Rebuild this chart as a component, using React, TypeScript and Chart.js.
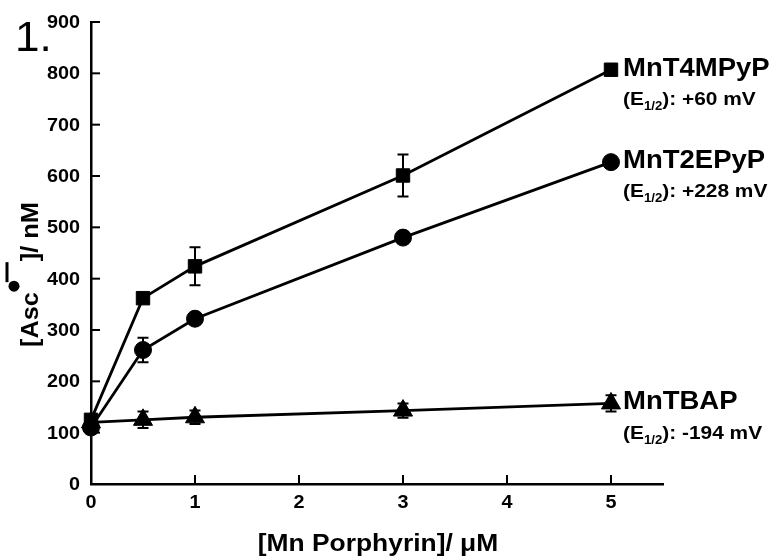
import React, { useEffect, useRef } from "react";
import { Chart, registerables } from "chart.js";
Chart.register(...registerables);

const concentrations = [0, 0.5, 1, 3, 5];
const t4mpypValues = [125, 362, 424, 601, 807];
const t4mpypErrors = [0, 0, 37, 41, 0];
const t2epypValues = [110, 261, 322, 480, 627];
const t2epypErrors = [8, 24, 0, 0, 0];
const tbapValues = [120, 125, 130, 143, 157];
const tbapErrors = [0, 16, 13, 14, 16];
const seriesNames = ["MnT4MPyP", "MnT2EPyP", "MnTBAP"];
const potentials = ["+60 mV", "+228 mV", "-194 mV"];
const yTickValues = [0, 100, 200, 300, 400, 500, 600, 700, 800, 900];
const xTickValues = [0, 1, 2, 3, 4, 5];

const FONT = "'Liberation Sans', Arial, sans-serif";
const SX = 1.1;

const errorsBySeries = [t4mpypErrors, t2epypErrors, tbapErrors];

function drawText(
  ctx: CanvasRenderingContext2D,
  text: string,
  x: number,
  y: number,
  font: string,
  align: "left" | "center" | "right" = "left",
  baseline: CanvasTextBaseline = "alphabetic",
  sx = SX
) {
  ctx.save();
  ctx.font = font;
  const w = ctx.measureText(text).width * sx;
  let left = x;
  if (align === "center") left = x - w / 2;
  if (align === "right") left = x - w;
  ctx.translate(left, y);
  ctx.scale(sx, 1);
  ctx.textAlign = "left";
  ctx.textBaseline = baseline;
  ctx.fillText(text, 0, 0);
  ctx.restore();
  return w;
}

const overlayPlugin = {
  id: "overlay",
  afterDatasetsDraw(chart: any) {
    const ctx = chart.ctx as CanvasRenderingContext2D;
    const xs = chart.scales.x;
    const ys = chart.scales.y;
    ctx.save();
    ctx.strokeStyle = "#000";
    ctx.fillStyle = "#000";
    const left = xs.getPixelForValue(0);
    const bottom = ys.getPixelForValue(0);
    // inward ticks + tick labels
    ctx.lineWidth = 2;
    const tickFont = `bold 18px ${FONT}`;
    yTickValues.forEach((v) => {
      const y = ys.getPixelForValue(v);
      if (v !== 0) {
        ctx.beginPath();
        ctx.moveTo(left, y);
        ctx.lineTo(left + 9, y);
        ctx.stroke();
      }
      drawText(ctx, String(v), left - 11, y + 1, tickFont, "right", "middle");
    });
    xTickValues.forEach((v) => {
      const x = xs.getPixelForValue(v);
      if (v !== 0) {
        ctx.beginPath();
        ctx.moveTo(x, bottom);
        ctx.lineTo(x, bottom - 9);
        ctx.stroke();
      }
      drawText(ctx, String(v), x, bottom + 19, tickFont, "center", "middle");
    });
    // error bars
    ctx.lineWidth = 2;
    chart.data.datasets.forEach((ds: any, i: number) => {
      const errs = errorsBySeries[i];
      ds.data.forEach((p: any, j: number) => {
        const e = errs[j];
        if (!e) return;
        const x = xs.getPixelForValue(p.x);
        const yTop = ys.getPixelForValue(p.y + e);
        const yBot = ys.getPixelForValue(p.y - e);
        ctx.beginPath();
        ctx.moveTo(x, yTop);
        ctx.lineTo(x, yBot);
        ctx.moveTo(x - 5.5, yTop);
        ctx.lineTo(x + 5.5, yTop);
        ctx.moveTo(x - 5.5, yBot);
        ctx.lineTo(x + 5.5, yBot);
        ctx.stroke();
      });
    });
    // series labels
    chart.data.datasets.forEach((ds: any, i: number) => {
      const last = ds.data[ds.data.length - 1];
      const x = xs.getPixelForValue(last.x) + 12;
      const y = ys.getPixelForValue(last.y);
      drawText(ctx, seriesNames[i], x, y - 1, `bold 25px ${FONT}`, "left", "middle");
      const sy = y + 30;
      let cx = x;
      cx += drawText(ctx, "(E", cx, sy, `bold 19px ${FONT}`, "left", "middle");
      cx += drawText(ctx, "1/2", cx, sy + 7, `bold 12px ${FONT}`, "left", "middle");
      drawText(ctx, "): " + potentials[i], cx, sy, `bold 19px ${FONT}`, "left", "middle");
    });
    // panel number
    drawText(ctx, "1.", 15, 51, `42px ${FONT}`, "left", "alphabetic", 1.05);
    // y axis title
    ctx.save();
    ctx.translate(38, 347);
    ctx.rotate(-Math.PI / 2);
    let px = 0;
    px += drawText(ctx, "[Asc", px, 0, `bold 23px ${FONT}`, "left", "alphabetic");
    ctx.beginPath();
    ctx.arc(px + 6, -24, 5.5, 0, Math.PI * 2);
    ctx.fill();
    ctx.lineWidth = 3;
    ctx.beginPath();
    ctx.moveTo(px + 10, -31);
    ctx.lineTo(px + 30, -31);
    ctx.stroke();
    px += 31;
    drawText(ctx, "]/ nM", px, 0, `bold 23px ${FONT}`, "left", "alphabetic");
    ctx.restore();
    // x axis title
    drawText(ctx, "[Mn Porphyrin]/ \u03bcM", 378, 551, `bold 24px ${FONT}`, "center", "alphabetic");
    ctx.restore();
  },
};

export default function App() {
  const ref = useRef<HTMLCanvasElement | null>(null);
  useEffect(() => {
    if (!ref.current) return;
    const mk = (vals: number[]) => vals.map((v, i) => ({ x: concentrations[i], y: v }));
    const common = {
      borderColor: "#000",
      backgroundColor: "#000",
      pointBackgroundColor: "#000",
      pointBorderColor: "#000",
      borderWidth: 2.8,
      pointBorderWidth: 1,
      showLine: true,
      clip: false as any,
    };
    const chart = new Chart(ref.current, {
      type: "scatter",
      data: {
        datasets: [
          { ...common, label: seriesNames[0], data: mk(t4mpypValues), pointStyle: "rect", pointRadius: 9.5 },
          { ...common, label: seriesNames[1], data: mk(t2epypValues), pointStyle: "circle", pointRadius: 8.5 },
          { ...common, label: seriesNames[2], data: mk(tbapValues), pointStyle: "triangle", pointRadius: 11 },
        ],
      },
      options: {
        animation: false,
        responsive: false,
        layout: { padding: { left: 0, top: 22, right: 107, bottom: 0 } },
        plugins: { legend: { display: false }, tooltip: { enabled: false } },
        scales: {
          x: {
            type: "linear",
            min: 0,
            max: 5.5,
            afterBuildTicks: (s: any) => {
              s.ticks = xTickValues.map((v) => ({ value: v }));
            },
            afterFit: (s: any) => {
              s.height = 75;
            },
            grid: { display: false, drawTicks: false },
            border: { display: true, color: "#000", width: 2.5 },
            ticks: { display: false },
          },
          y: {
            type: "linear",
            min: 0,
            max: 900,
            afterBuildTicks: (s: any) => {
              s.ticks = yTickValues.map((v) => ({ value: v }));
            },
            afterFit: (s: any) => {
              s.width = 91;
            },
            grid: { display: false, drawTicks: false },
            border: { display: true, color: "#000", width: 2.5 },
            ticks: { display: false },
          },
        },
      },
      plugins: [overlayPlugin],
    });
    return () => chart.destroy();
  }, []);
  return (
    <div style={{ position: "fixed", left: 0, top: 0, width: 770, height: 559, background: "#fff" }}>
      <canvas ref={ref} width={770} height={559} />
    </div>
  );
}
